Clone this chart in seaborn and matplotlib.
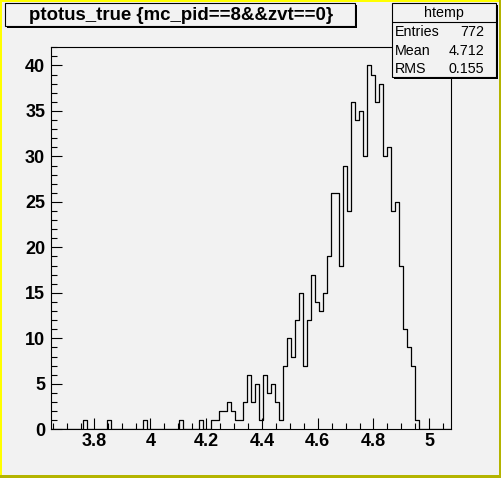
import numpy as np
import pandas as pd
import seaborn as sns
import matplotlib
matplotlib.use("Agg")
import matplotlib.pyplot as plt
from matplotlib.patches import Rectangle

# ---- data ----
x_min, x_max, n_bins = 3.643, 5.078, 100
counts = [
    0, 0, 0, 0, 0, 0, 0, 0, 1, 0,
    0, 0, 0, 0, 1, 0, 0, 0, 0, 0,
    0, 0, 0, 1, 0, 0, 0, 0, 0, 0,
    0, 0, 1, 0, 0, 0, 0, 1, 0, 0,
    1, 1, 2, 2, 3, 2, 1, 1, 3, 6,
    3, 5, 1, 6, 4, 5, 3, 1, 7, 10,
    8, 12, 15, 7, 12, 17, 14, 13, 15, 19,
    26, 26, 18, 29, 24, 36, 34, 35, 30, 40,
    39, 36, 38, 30, 31, 24, 25, 18, 11, 9,
    7, 1, 0, 0, 0, 0, 0, 0, 0, 0,
]
x_ticks = [3.8, 4.0, 4.2, 4.4, 4.6, 4.8, 5.0]
x_tick_labels = ["3.8", "4", "4.2", "4.4", "4.6", "4.8", "5"]
y_ticks = [0, 5, 10, 15, 20, 25, 30, 35, 40]
title = "ptotus_true {mc_pid==8&&zvt==0}"
stats_name = "htemp"
stats_keys = ["Entries", "Mean", "RMS"]
stats_vals = ["772", "4.712", "0.155"]

BG = "#f2f2f2"
W, H = 502, 478

sns.set_theme(style="white")
plt.rcParams["font.family"] = ["Liberation Sans", "DejaVu Sans"]

fig = plt.figure(figsize=(W / 100, H / 100), dpi=100, facecolor=BG)

def fx(x):
    return x / W

def fy(y):
    return 1 - y / H

left, right, top, bottom = 50.7, 451.0, 47.3, 429.3
ax = fig.add_axes([fx(left), fy(bottom), (right - left) / W, (bottom - top) / H])
ax.set_facecolor(BG)

edges = np.linspace(x_min, x_max, n_bins + 1)
centers = (edges[:-1] + edges[1:]) / 2
df = pd.DataFrame({"x": centers, "w": np.asarray(counts, dtype=float)})
sns.histplot(data=df, x="x", weights="w", bins=n_bins, binrange=(x_min, x_max),
             element="step", fill=False, color="black", linewidth=0.9, ax=ax)

ax.set_xlim(x_min, x_max)
ax.set_ylim(0, 42)
ax.set_xlabel("")
ax.set_ylabel("")
ax.set_xticks(x_ticks)
ax.set_xticklabels(x_tick_labels)
ax.set_xticks(np.arange(3.65, 5.08, 0.05), minor=True)
ax.set_yticks(y_ticks)
ax.set_yticks(np.arange(0, 43, 1), minor=True)
for s in ax.spines.values():
    s.set_color("black")
    s.set_linewidth(0.8)
ax.tick_params(axis="both", which="both", direction="in", color="black",
               width=0.8, top=False, right=False, bottom=True, left=True)
ax.tick_params(axis="both", which="major", length=8)
ax.tick_params(axis="both", which="minor", length=4)
ax.tick_params(axis="x", which="major", pad=2.5, labelsize=13)
ax.tick_params(axis="y", which="major", pad=4, labelsize=13)
for lab in ax.get_xticklabels() + ax.get_yticklabels():
    lab.set_fontweight("bold")
    lab.set_color("black")

# overlay in pixel coordinates
ov = fig.add_axes([0, 0, 1, 1])
ov.set_xlim(0, W)
ov.set_ylim(H, 0)
ov.axis("off")
ov.patch.set_visible(False)

def pave(x0, y0, x1, y1, sh=2):
    ov.add_patch(Rectangle((x0 + sh, y0 + sh), x1 - x0, y1 - y0,
                           facecolor="black", edgecolor="none", zorder=2))
    ov.add_patch(Rectangle((x0, y0), x1 - x0, y1 - y0, facecolor=BG,
                           edgecolor="black", linewidth=0.8, zorder=3))

# title box
pave(5, 3, 355, 26)
ov.text(181, 15, title, ha="center", va="center", fontsize=13.4,
        fontweight="bold", color="black", zorder=4)

# stats box
pave(392.3, 3, 496, 77)
ov.plot([392.3, 496], [22, 22], color="black", linewidth=0.8, zorder=4)
ov.text(444, 12.5, stats_name, ha="center", va="center", fontsize=10.3,
        color="black", zorder=4)
for i, (k, v) in enumerate(zip(stats_keys, stats_vals)):
    yy = 32 + i * 18.5
    ov.text(394.5, yy, k, ha="left", va="center", fontsize=10.3, color="black", zorder=4)
    ov.text(484, yy, v, ha="right", va="center", fontsize=10.3, color="black", zorder=4)

# canvas bevel border
ov.add_patch(Rectangle((0, 0), W, 2, facecolor="#ffff00", edgecolor="none", zorder=5))
ov.add_patch(Rectangle((0, 0), 2, H, facecolor="#ffff00", edgecolor="none", zorder=5))
ov.add_patch(Rectangle((0, H - 3), W, 3, facecolor="#b4b400", edgecolor="none", zorder=5))
ov.add_patch(Rectangle((W - 3, 0), 3, H, facecolor="#b4b400", edgecolor="none", zorder=5))

fig.savefig("out.png", dpi=100, facecolor=BG)
